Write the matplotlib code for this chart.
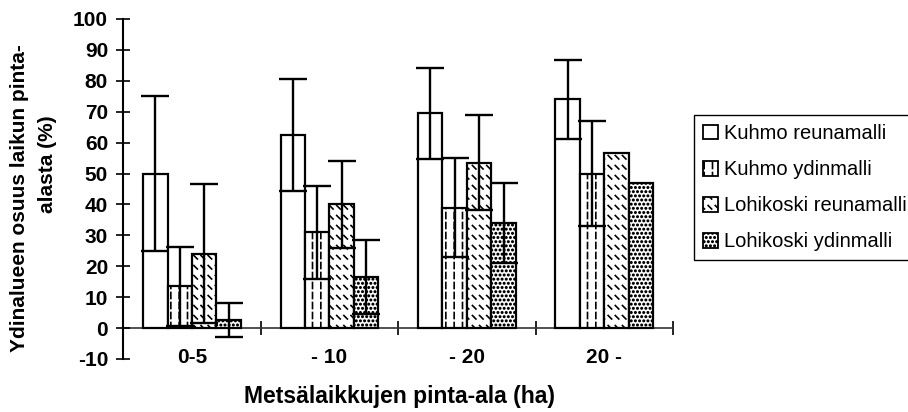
import numpy as np
import matplotlib
matplotlib.use('Agg')
import matplotlib.pyplot as plt
import matplotlib.hatch as mhatch
from matplotlib.path import Path
from matplotlib.patches import Patch

# ---------------- data ----------------
categories = ['0-5', '- 10', '- 20', '20 -']
series_names = ['Kuhmo reunamalli', 'Kuhmo ydinmalli',
                'Lohikoski reunamalli', 'Lohikoski ydinmalli']
kuhmo_reuna = [50, 62.5, 69.5, 74]
kuhmo_reuna_err = [25, 18, 14.7, 12.7]
kuhmo_ydin = [13.5, 31, 39, 50]
kuhmo_ydin_err = [12.8, 15, 16, 17]
lohi_reuna = [24, 40, 53.5, 56.5]
lohi_reuna_err = [22.5, 14, 15.3, np.nan]
lohi_ydin = [2.5, 16.5, 34, 47]
lohi_ydin_err = [5.5, 12, 13, np.nan]

yticks = list(range(-10, 101, 10))
y_label_1 = 'Ydinalueen osuus laikun pinta-'
y_label_2 = 'alasta (%)'
x_label = 'Metsälaikkujen pinta-ala (ha)'


# ---------------- custom hatch patterns (Excel-like) ----------------
class DashedVertical(mhatch.HatchPatternBase):
    def __init__(self, hatch, density):
        n = hatch.count('|')
        self.ncols = 12 * n
        self.nrows = 10 * n
        self.num_vertices = self.ncols * self.nrows * 2

    def set_vertices_and_codes(self, vertices, codes):
        xs = (np.arange(self.ncols) + 0.5) / self.ncols
        ys = np.arange(self.nrows) / self.nrows + 0.015
        L = 0.6 / self.nrows
        k = 0
        for x in xs:
            for y in ys:
                vertices[k] = (x, y)
                vertices[k + 1] = (x, y + L)
                codes[k] = Path.MOVETO
                codes[k + 1] = Path.LINETO
                k += 2


class DashedDiag(mhatch.HatchPatternBase):
    def __init__(self, hatch, density):
        n = hatch.count('\\')
        self.ncols = 14 * n
        self.nrows = 10 * n
        self.num_vertices = self.ncols * self.nrows * 2

    def set_vertices_and_codes(self, vertices, codes):
        xs = np.arange(self.ncols) / self.ncols + 0.01
        ys = np.arange(self.nrows) / self.nrows + 0.01
        d = 0.035
        k = 0
        for x in xs:
            for y in ys:
                vertices[k] = (x, y + d)
                vertices[k + 1] = (x + d, y)
                codes[k] = Path.MOVETO
                codes[k + 1] = Path.LINETO
                k += 2


class FineDots(mhatch.SmallFilledCircles):
    size = 0.16


mhatch._hatch_types[:] = [
    DashedVertical if t is mhatch.VerticalHatch else
    DashedDiag if t is mhatch.SouthEastHatch else
    FineDots if t is mhatch.SmallFilledCircles else t
    for t in mhatch._hatch_types
]

plt.rcParams['font.family'] = ['Liberation Sans', 'DejaVu Sans']
plt.rcParams['hatch.linewidth'] = 1.2
plt.rcParams['hatch.color'] = 'black'

W, H = 908, 412
fig = plt.figure(figsize=(W / 100, H / 100), dpi=100)
ax = fig.add_axes([123.3 / W, 1 - 359 / H, (673 - 123.3) / W, (359 - 19) / H])

values = [kuhmo_reuna, kuhmo_ydin, lohi_reuna, lohi_ydin]
errors = [kuhmo_reuna_err, kuhmo_ydin_err, lohi_reuna_err, lohi_ydin_err]
hatches = ['', '|', '\\', '....']

x = np.arange(len(categories))
bw = 0.178
handles = []
for i, (vals, errs, hp) in enumerate(zip(values, errors, hatches)):
    pos = x + (i - 1.5) * bw
    ax.bar(pos, vals, width=bw, color='white', edgecolor='black',
           linewidth=1.6, hatch=hp, zorder=2)
    ax.errorbar(pos, vals, yerr=errs, fmt='none', ecolor='black',
                elinewidth=1.7, capsize=10, capthick=1.7, zorder=3)
    handles.append(Patch(facecolor='white', edgecolor='black',
                         linewidth=1.3, hatch=hp))

ax.set_xlim(-0.5, len(categories) - 0.5)
ax.set_ylim(-10, 100)
ax.set_yticks(yticks)
ax.set_yticklabels([str(v) for v in yticks], fontsize=15, fontweight='bold')
ax.tick_params(axis='y', direction='inout', length=10, width=1.2, pad=6)

ax.set_xticks(x)
ax.set_xticklabels(categories, fontsize=15, fontweight='bold')
ax.tick_params(axis='x', length=0, pad=-8)

for s in ['top', 'right', 'bottom']:
    ax.spines[s].set_visible(False)
ax.spines['left'].set_linewidth(1.5)

# category axis line at y = 0
sec = ax.secondary_xaxis(10 / 110)
sec.set_xticks(list(x[:-1] + 0.5) + [len(categories) - 0.5])
sec.tick_params(direction='inout', length=10, width=1.2, labelbottom=False)
sec.spines['bottom'].set_linewidth(1.2)
sec.spines['bottom'].set_color('#333333')

fig.text(20 / W, 1 - 198 / H, y_label_1, rotation=90, ha='center', va='center',
         fontsize=15, fontweight='bold')
fig.text(47.5 / W, 1 - 164 / H, y_label_2, rotation=90, ha='center', va='center',
         fontsize=15, fontweight='bold')
fig.text(400 / W, 1 - 397 / H, x_label, ha='center', va='center',
         fontsize=16.5, fontweight='bold')

leg = fig.legend(handles, series_names, loc='upper left',
                 bbox_to_anchor=(694 / W, 1 - 115 / H), fontsize=14.5,
                 frameon=True, fancybox=False, framealpha=1, edgecolor='black',
                 handlelength=0.75, handleheight=0.75, handletextpad=0.3,
                 labelspacing=0.85, borderpad=0.45, borderaxespad=0)
leg.get_frame().set_linewidth(1.0)

fig.savefig('out.png', dpi=100)
